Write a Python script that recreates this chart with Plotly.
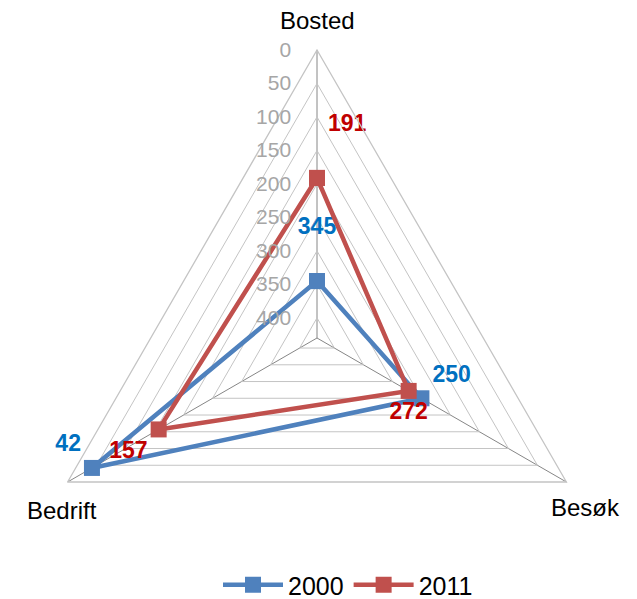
import plotly.graph_objects as go

categories = ["Bosted", "Besøk", "Bedrift"]
values_2000 = [345, 250, 42]
values_2011 = [191, 272, 157]
radial_ticks = [0, 50, 100, 150, 200, 250, 300, 350, 400]

BLUE = "#4f81bd"
RED = "#c0504d"

# page body has an 8px margin, so the figure sits 8px right/down
W, H = 637, 620
cx, cy, R = 309, 330, 288


def closed(seq):
    return list(seq) + [seq[0]]


def labels(vals, lift):
    # trailing empty line lifts a "top" label a bit further from its marker
    return [str(v) + ("<br> " if up else "") for v, up in zip(vals, lift)] + [""]


fig = go.Figure()

fig.add_trace(go.Scatterpolar(
    r=closed(values_2000),
    theta=closed(categories),
    mode="lines+markers+text",
    name="2000",
    line=dict(color=BLUE, width=4.5),
    marker=dict(symbol="square", size=16, color=BLUE),
    text=labels(values_2000, [True, False, False]),
    textposition=["top center", "top right", "top left", "top center"],
    textfont=dict(color="#0070c0", size=23, family="Liberation Sans", weight="bold"),
))
fig.add_trace(go.Scatterpolar(
    r=closed(values_2011),
    theta=closed(categories),
    mode="lines+markers+text",
    name="2011",
    line=dict(color=RED, width=4.5),
    marker=dict(symbol="square", size=16, color=RED),
    text=labels(values_2011, [True, False, False]),
    textposition=["top right", "bottom center", "bottom left", "top center"],
    textfont=dict(color="#c00000", size=23, family="Liberation Sans", weight="bold"),
))

# category labels placed as annotations (paper coords) to match the reference
label_pos = {"Bosted": (309, 12), "Besøk": (577, 500), "Bedrift": (54, 502)}
for name in categories:
    px, py = label_pos[name]
    fig.add_annotation(
        x=px / W, y=1 - py / H, xref="paper", yref="paper",
        text=name, showarrow=False, xanchor="center", yanchor="middle",
        font=dict(size=24, color="black"),
    )

fig.update_layout(
    width=W,
    height=H,
    margin=dict(l=0, r=0, t=0, b=0),
    paper_bgcolor="white",
    font=dict(family="Liberation Sans", size=24, color="black"),
    polar=dict(
        domain=dict(x=[(cx - R) / W, (cx + R) / W],
                    y=[(H - cy - R) / H, (H - cy + R) / H]),
        gridshape="linear",
        bgcolor="white",
        radialaxis=dict(
            range=[430, 0],
            tickvals=radial_ticks,
            angle=90,
            tickangle=90,
            side="counterclockwise",
            showline=False,
            ticks="outside",
            ticklen=18,
            tickcolor="rgba(0,0,0,0)",
            gridcolor="#c4c4c4",
            gridwidth=1.3,
            tickfont=dict(color="#a6a6a6", size=21),
        ),
        angularaxis=dict(
            categoryorder="array",
            categoryarray=categories,
            rotation=90,
            direction="clockwise",
            gridcolor="#868686",
            gridwidth=1.3,
            linecolor="#c4c4c4",
            linewidth=1.3,
            ticks="",
            showticklabels=False,
        ),
    ),
    legend=dict(
        orientation="h",
        x=340 / W,
        xanchor="center",
        y=1 - 577 / H,
        yanchor="middle",
        itemwidth=60,
        font=dict(size=25),
    ),
)

fig.write_html("out.html")
